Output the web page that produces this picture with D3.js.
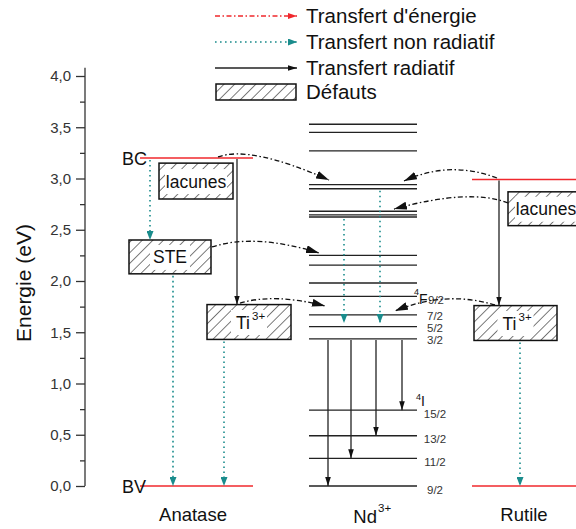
<!DOCTYPE html>
<html lang="en">
<head>
  <meta charset="UTF-8">
  <title>Diagramme energie</title>
  <script src="https://d3js.org/d3.v7.min.js"></script>
  <style>
    body { margin: 0; background: white; }
    text { font-family: "Liberation Sans", Arial, sans-serif; fill: #111; }
    .axis path, .axis line { stroke: #333; stroke-width: 1.3px; }
    .axis text { font-size: 15px; fill: #333; }
  </style>
</head>
<body>
  <svg id="chart" width="576" height="529"></svg>

  <script>
    // energies (eV)
    const anataseBands = [3.2, 0];          // BC, BV
    const rutileBands = [2.99, 0];
    const ndLevels = [3.53, 3.45, 3.27, 2.94, 2.90, 2.68, 2.645, 2.625, 2.25, 2.155,
                      1.98, 1.85, 1.67, 1.555, 1.435, 0.74, 0.49, 0.27, 0];
    const ndLabels = [["7/2", 1.67], ["5/2", 1.555], ["3/2", 1.435],
                      ["15/2", 0.74], ["13/2", 0.49], ["11/2", 0.27], ["9/2", 0]];
    // defect boxes: label, x0, x1, top energy, bottom energy
    const defects = [
      { name: "lacunes", x0: 159, x1: 233, top: 3.15, bottom: 2.80 },
      { name: "STE", x0: 129, x1: 211, top: 2.40, bottom: 2.07 },
      { name: "Ti", sup: "3+", x0: 207, x1: 291, top: 1.77, bottom: 1.43 },
      { name: "lacunes", x0: 508, x1: 582, top: 2.87, bottom: 2.54 },
      { name: "Ti", sup: "3+", x0: 474, x1: 557, top: 1.76, bottom: 1.42 }
    ];
    // non radiative (teal dotted) : x, from, to
    const nonRadiative = [[150, 3.2, 2.40], [173, 2.07, 0], [224, 1.43, 0],
                          [344, 2.625, 1.59], [380, 2.90, 1.59], [520, 1.42, 0]];
    // radiative (solid) : x, from, to
    const radiative = [[237, 3.2, 1.77], [499, 2.99, 1.76],
                       [328, 1.435, 0], [351, 1.435, 0.27], [376, 1.435, 0.49], [402, 1.435, 0.74]];
    // energy transfer (dash-dot curves) : [x, e] start, control, end
    const transfers = [
      [[218, 3.21], [250, 3.327], [329, 2.985]],
      [[497, 3.005], [450, 3.18], [404, 2.976]],
      [[508, 2.761], [470, 2.907], [394, 2.702]],
      [[212, 2.332], [255, 2.468], [319, 2.273]],
      [[240, 1.785], [275, 1.883], [325, 1.756]],
      [[495, 1.766], [445, 1.912], [395, 1.707]]
    ];
    const ticks = [0, 0.5, 1, 1.5, 2, 2.5, 3, 3.5, 4];
    const minorTicks = [0.25, 0.75, 1.25, 1.75, 2.25, 2.75, 3.25, 3.75];
    const legendItems = ["Transfert d'énergie", "Transfert non radiatif", "Transfert radiatif", "Défauts"];

    const svg = d3.select("#chart");
    const teal = "#1a8c8c";
    const red = "#f0282d";

    const y = d3.scaleLinear().domain([0, 4]).range([486, 76]);

    // markers and hatch
    const defs = svg.append("defs");
    function marker(id, color, len, half) {
      defs.append("marker")
        .attr("id", id)
        .attr("markerUnits", "userSpaceOnUse")
        .attr("viewBox", `0 ${-half} ${len} ${2 * half}`)
        .attr("refX", len).attr("refY", 0)
        .attr("markerWidth", len).attr("markerHeight", 2 * half)
        .attr("orient", "auto")
        .append("path")
        .attr("d", `M0,${-half}L${len},0L0,${half}Z`)
        .attr("fill", color);
    }
    marker("arrTransfer", "#111", 13, 4);
    marker("arrTeal", teal, 9, 3.5);
    marker("arrBlack", "#111", 9, 2.8);
    marker("arrRed", red, 9, 3);

    defs.append("pattern")
      .attr("id", "hatch")
      .attr("patternUnits", "userSpaceOnUse")
      .attr("width", 7.5).attr("height", 7.5)
      .attr("patternTransform", "rotate(45)")
      .append("line")
      .attr("x1", 0).attr("y1", 0).attr("x2", 0).attr("y2", 7.5)
      .attr("stroke", "#111").attr("stroke-width", 1.1);

    // y axis
    const axisG = svg.append("g").attr("class", "axis").attr("transform", "translate(85,0)");
    axisG.call(d3.axisLeft(y).tickValues(ticks).tickSize(9).tickPadding(5)
      .tickFormat(d => d3.format(".1f")(d).replace(".", ",")));
    axisG.select(".domain").remove();
    axisG.append("g").call(d3.axisLeft(y).tickValues(minorTicks).tickSize(5).tickFormat(""))
      .select(".domain").remove();
    axisG.append("line").attr("x1", 0).attr("x2", 0).attr("y1", y(4.08)).attr("y2", y(0));

    svg.append("text")
      .attr("transform", `translate(31,${y(1.98)}) rotate(-90)`)
      .attr("text-anchor", "middle")
      .style("font-size", "21px")
      .text("Energie (eV)");

    // bands
    const bands = svg.append("g");
    anataseBands.forEach(e => {
      bands.append("line").attr("x1", 140).attr("x2", 253).attr("y1", y(e)).attr("y2", y(e))
        .attr("stroke", red).attr("stroke-width", 1.6);
    });
    rutileBands.forEach(e => {
      bands.append("line").attr("x1", 472).attr("x2", 576).attr("y1", y(e)).attr("y2", y(e))
        .attr("stroke", red).attr("stroke-width", 1.6);
    });
    svg.append("text").attr("x", 147).attr("y", y(anataseBands[0]) + 6.5)
      .attr("text-anchor", "end").style("font-size", "18px").text("BC");
    svg.append("text").attr("x", 146).attr("y", y(anataseBands[1]) + 6.5)
      .attr("text-anchor", "end").style("font-size", "18px").text("BV");

    // Nd levels
    svg.append("g").selectAll("line").data(ndLevels).join("line")
      .attr("x1", 309).attr("x2", 417)
      .attr("y1", d => y(d)).attr("y2", d => y(d))
      .attr("stroke", "#222").attr("stroke-width", 1.4);

    svg.append("g").selectAll("text").data(ndLabels).join("text")
      .attr("x", 435)
      .attr("y", d => y(d[1]) + (d[1] < 1 ? 7.5 : 5))
      .attr("text-anchor", "middle")
      .style("font-size", "11.5px").style("fill", "#333")
      .text(d => d[0]);
    // term symbols
    svg.append("text").attr("x", 414).attr("y", y(1.85) - 1).style("font-size", "9px").text("4");
    svg.append("text").attr("x", 419).attr("y", y(1.85) + 8).style("font-size", "14px").text("F");
    svg.append("text").attr("x", 428).attr("y", y(1.85) + 8).style("font-size", "11.5px")
      .style("fill", "#333").text("9/2");
    svg.append("text").attr("x", 416).attr("y", y(0.74) - 10).style("font-size", "9px").text("4");
    svg.append("text").attr("x", 421).attr("y", y(0.74) - 4).style("font-size", "14px").text("I");

    // defect boxes
    const boxG = svg.append("g").selectAll("g").data(defects).join("g");
    boxG.append("rect")
      .attr("x", d => d.x0).attr("y", d => y(d.top))
      .attr("width", d => d.x1 - d.x0).attr("height", d => y(d.bottom) - y(d.top))
      .attr("fill", "url(#hatch)").attr("stroke", "#111").attr("stroke-width", 1.5);
    boxG.each(function (d) {
      const g = d3.select(this);
      const cx = (d.x0 + Math.min(d.x1, 576)) / 2 + (d.x1 > 576 ? 4 : 0);
      const cy = (y(d.top) + y(d.bottom)) / 2;
      const w = d.name === "lacunes" ? 62 : (d.name === "STE" ? 40 : 36);
      g.append("rect").attr("x", cx - w / 2).attr("y", cy - 12).attr("width", w).attr("height", 25)
        .attr("fill", "white");
      g.append("text").attr("x", cx - (d.sup ? 6 : 0)).attr("y", cy + 6.5)
        .attr("text-anchor", "middle").style("font-size", "17.5px").text(d.name);
      if (d.sup) {
        g.append("text").attr("x", cx + 3).attr("y", cy - 2).style("font-size", "11.5px").text(d.sup);
      }
    });

    // non radiative arrows
    svg.append("g").selectAll("line").data(nonRadiative).join("line")
      .attr("x1", d => d[0]).attr("x2", d => d[0])
      .attr("y1", d => y(d[1]) + 2).attr("y2", d => y(d[2]))
      .attr("stroke", teal).attr("stroke-width", 1.6).attr("stroke-dasharray", "1.6,3.4")
      .attr("marker-end", "url(#arrTeal)");

    // radiative arrows
    svg.append("g").selectAll("line").data(radiative).join("line")
      .attr("x1", d => d[0]).attr("x2", d => d[0])
      .attr("y1", d => y(d[1]) + 1).attr("y2", d => y(d[2]))
      .attr("stroke", "#222").attr("stroke-width", 1.3)
      .attr("marker-end", "url(#arrBlack)");

    // energy transfer curves
    svg.append("g").selectAll("path").data(transfers).join("path")
      .attr("d", d => {
        const p = d3.path();
        p.moveTo(d[0][0], y(d[0][1]));
        p.quadraticCurveTo(d[1][0], y(d[1][1]), d[2][0], y(d[2][1]));
        return p.toString();
      })
      .attr("fill", "none").attr("stroke", "#111").attr("stroke-width", 1.3)
      .attr("stroke-dasharray", "5,2.5,1.5,2.5")
      .attr("marker-end", "url(#arrTransfer)");

    // legend
    const legend = svg.append("g");
    const legendY = [16, 42, 68, 92];
    legend.append("line").attr("x1", 215).attr("x2", 297).attr("y1", legendY[0]).attr("y2", legendY[0])
      .attr("stroke", red).attr("stroke-width", 1.3).attr("stroke-dasharray", "5,2.5,1.5,2.5")
      .attr("marker-end", "url(#arrRed)");
    legend.append("line").attr("x1", 215).attr("x2", 297).attr("y1", legendY[1]).attr("y2", legendY[1])
      .attr("stroke", teal).attr("stroke-width", 1.6).attr("stroke-dasharray", "1.6,3.4")
      .attr("marker-end", "url(#arrTeal)");
    legend.append("line").attr("x1", 215).attr("x2", 297).attr("y1", legendY[2]).attr("y2", legendY[2])
      .attr("stroke", "#222").attr("stroke-width", 1.3)
      .attr("marker-end", "url(#arrBlack)");
    legend.append("rect").attr("x", 216).attr("y", legendY[3] - 8).attr("width", 80).attr("height", 16)
      .attr("fill", "url(#hatch)").attr("stroke", "#111").attr("stroke-width", 1.5);
    legend.selectAll("text").data(legendItems).join("text")
      .attr("x", 306).attr("y", (d, i) => legendY[i] + 7)
      .style("font-size", "20.5px")
      .text(d => d);

    // bottom labels
    svg.append("text").attr("x", 193).attr("y", 521).attr("text-anchor", "middle")
      .style("font-size", "18.5px").text("Anatase");
    svg.append("text").attr("x", 377).attr("y", 523).attr("text-anchor", "end")
      .style("font-size", "18.5px").text("Nd");
    svg.append("text").attr("x", 378).attr("y", 512).style("font-size", "11.5px").text("3+");
    svg.append("text").attr("x", 524).attr("y", 521).attr("text-anchor", "middle")
      .style("font-size", "18.5px").text("Rutile");
  </script>
</body>
</html>
